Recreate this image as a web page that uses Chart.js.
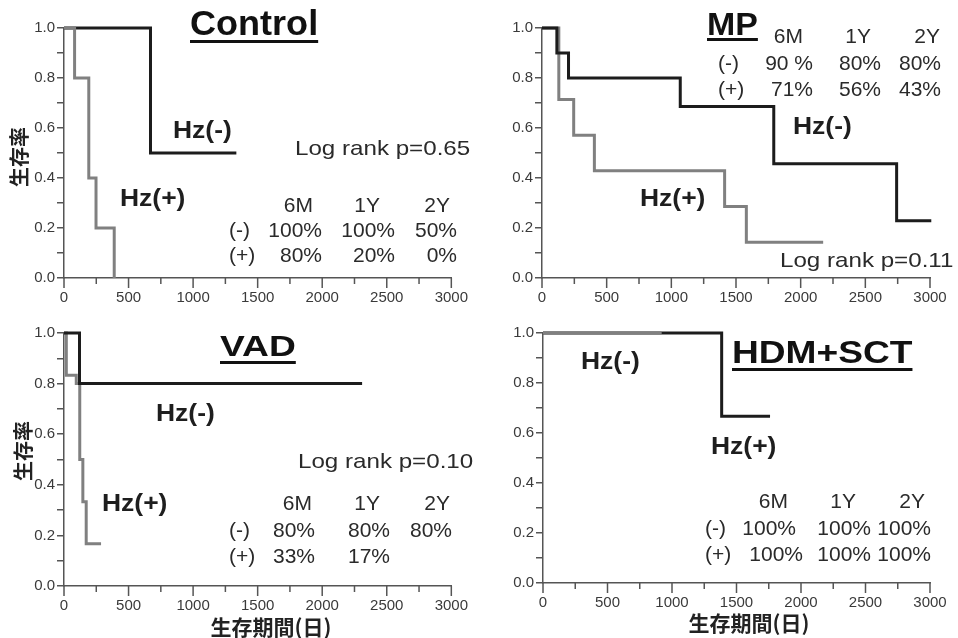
<!DOCTYPE html>
<html>
<head>
<meta charset="utf-8">
<script src="https://cdn.jsdelivr.net/npm/chart.js@4/dist/chart.umd.min.js"></script>
<style>
html, body { margin: 0; padding: 0; background: #fff; }
#page { position: relative; width: 958px; height: 638px; overflow: hidden; font-family: "Liberation Sans", Arial, sans-serif; color: #222; }
canvas { position: absolute; }
.t { position: absolute; white-space: nowrap; line-height: 1; transform-origin: 0 0; }
.title { font-weight: bold; color: #111; text-decoration: underline; text-decoration-thickness: 2.5px; }
.hz { font-weight: bold; font-size: 23px; transform: scaleX(1.15); color: #1e1e1e; }
.lr { font-size: 21px; transform: scaleX(1.15); color: #2a2a2a; }
.tb { position: absolute; white-space: nowrap; line-height: 1; font-size: 21px; color: #2a2a2a; }
.ytitle { position: absolute; font-family: "Noto Sans CJK JP"; font-weight: bold; font-size: 20px; line-height: 1; white-space: nowrap; transform: translate(-50%, -50%) rotate(-90deg); color: #222; }
.xtitle { position: absolute; font-family: "Noto Sans CJK JP"; font-weight: bold; font-size: 21px; line-height: 1; white-space: nowrap; transform: translate(-50%, -50%); color: #222; }
</style>
</head>
<body>
<div id="page">
  <canvas id="cControl" width="479" height="318" style="left:0;top:0"></canvas>
  <canvas id="cMP" width="479" height="318" style="left:479px;top:0"></canvas>
  <canvas id="cVAD" width="479" height="320" style="left:0;top:318px"></canvas>
  <canvas id="cHDM" width="479" height="320" style="left:479px;top:318px"></canvas>

  <div class="t title" style="left:190px;top:5px;font-size:35px;transform:scaleX(1.03);text-underline-offset:5px">Control</div>
  <div class="t title" style="left:707px;top:8px;font-size:32px;transform:scaleX(1.06);text-underline-offset:3px">MP</div>
  <div class="t title" style="left:220px;top:331px;font-size:30px;transform:scaleX(1.24);text-underline-offset:5px">VAD</div>
  <div class="t title" style="left:732px;top:336px;font-size:32px;transform:scaleX(1.16);text-underline-offset:5px">HDM+SCT</div>

  <div class="t hz" style="left:173px;top:119px">Hz(-)</div>
  <div class="t hz" style="left:120px;top:187px">Hz(+)</div>
  <div class="t hz" style="left:793px;top:115px">Hz(-)</div>
  <div class="t hz" style="left:640px;top:187px">Hz(+)</div>
  <div class="t hz" style="left:156px;top:402px">Hz(-)</div>
  <div class="t hz" style="left:102px;top:492px">Hz(+)</div>
  <div class="t hz" style="left:581px;top:350px">Hz(-)</div>
  <div class="t hz" style="left:711px;top:435px">Hz(+)</div>

  <div class="t lr" style="left:295px;top:137px">Log rank p=0.65</div>
  <div class="t lr" style="left:780px;top:249px">Log rank p=0.11</div>
  <div class="t lr" style="left:298px;top:450px">Log rank p=0.10</div>

  <div class="ytitle" style="left:19px;top:157px">生存率</div>
  <div class="ytitle" style="left:23px;top:451px">生存率</div>
  <div class="xtitle" style="left:271px;top:626px">生存期間(日)</div>
  <div class="xtitle" style="left:749px;top:622px">生存期間(日)</div>
</div>
<script>
// 軸の目盛
const xTicks = [0, 500, 1000, 1500, 2000, 2500, 3000]
const yTicks = [0, 0.2, 0.4, 0.6, 0.8, 1.0]

// Control
const ctrlNegDays = [0, 670, 1335]
const ctrlNegSurv = [1, 0.5, 0.5]
const ctrlPosDays = [0, 82, 192, 248, 389]
const ctrlPosSurv = [1, 0.8, 0.4, 0.2, 0]

// MP
const mpNegDays = [0, 115, 205, 1069, 1792, 2742, 3010]
const mpNegSurv = [1, 0.9, 0.8, 0.686, 0.457, 0.229, 0.229]
const mpPosDays = [0, 130, 245, 405, 1412, 1580, 2174]
const mpPosSurv = [1, 0.714, 0.571, 0.429, 0.286, 0.143, 0.143]

// VAD
const vadNegDays = [0, 120, 2309]
const vadNegSurv = [1, 0.8, 0.8]
const vadPosDays = [0, 18, 95, 122, 146, 172, 287]
const vadPosSurv = [1, 0.833, 0.8, 0.5, 0.333, 0.167, 0.167]

// HDM+SCT
const hdmNegDays = [0, 1385, 1760]
const hdmNegSurv = [1, 0.667, 0.667]
const hdmPosDays = [0, 920]
const hdmPosSurv = [1, 1]

// 生存率の表
const rateHeads = ['6M', '1Y', '2Y']
const rowLabels = ['(-)', '(+)']
const ctrlRates = [['100%', '100%', '50%'], ['80%', '20%', '0%']]
const mpRates = [['90 %', '80%', '80%'], ['71%', '56%', '43%']]
const vadRates = [['80%', '80%', '80%'], ['33%', '17%', '']]
const hdmRates = [['100%', '100%', '100%'], ['100%', '100%', '100%']]

const BLACK = '#1c1c1c'
const GRAY = '#808080'

const toPoints = (xs, ys) => xs.map((x, i) => ({ x: x, y: ys[i] }))

const tickFont = { family: '"Liberation Sans Narrow", "Liberation Sans", Arial', size: 15 }

// x軸の目盛線（大きい目盛と小さい目盛）
const xTickMarks = {
    id: 'xTickMarks',
    afterDraw(chart) {
        const s = chart.scales.x
        const ctx = chart.ctx
        ctx.save()
        ctx.strokeStyle = '#555'
        ctx.lineWidth = 1.5
        s.ticks.forEach(t => {
            const px = s.getPixelForValue(t.value)
            const len = xTicks.includes(t.value) ? 10 : 6
            ctx.beginPath()
            ctx.moveTo(px, s.top)
            ctx.lineTo(px, s.top + len)
            ctx.stroke()
        })
        ctx.restore()
    }
}

function kmChart(id, sets, pad) {
    return new Chart(document.getElementById(id), {
        type: 'line',
        data: {
            datasets: sets.map(s => ({
                label: s.label,
                data: toPoints(s.days, s.surv),
                borderColor: s.color,
                borderWidth: 3,
                stepped: true,
                pointRadius: 0,
                fill: false,
                clip: 8,
                borderCapStyle: 'butt',
                borderJoinStyle: 'miter'
            }))
        },
        options: {
            responsive: false,
            animation: false,
            layout: { padding: pad },
            plugins: { legend: { display: false }, tooltip: { enabled: false } },
            scales: {
                x: {
                    type: 'linear', min: 0, max: 3000,
                    afterFit: s => { s.height = 36 },
                    ticks: {
                        stepSize: 250, autoSkip: false, maxRotation: 0, padding: 11,
                        color: '#3a3a3a', font: tickFont,
                        callback: v => xTicks.includes(v) ? String(v) : ''
                    },
                    grid: { drawOnChartArea: false, drawTicks: false },
                    border: { color: '#555', width: 1.5 }
                },
                y: {
                    type: 'linear', min: 0, max: 1,
                    afterFit: s => { s.width = 52 },
                    ticks: {
                        stepSize: 0.1, autoSkip: false, padding: 2,
                        color: '#3a3a3a', font: tickFont,
                        callback: v => yTicks.some(t => Math.abs(t - v) < 1e-6) ? v.toFixed(1) : ''
                    },
                    grid: { drawOnChartArea: false, tickLength: 7, color: '#555', lineWidth: 1.5 },
                    border: { color: '#555', width: 1.5 }
                }
            }
        },
        plugins: [xTickMarks]
    })
}

// 灰色の線を先に置くと上に描かれる
kmChart('cControl', [
    { label: 'Hz(+)', days: ctrlPosDays, surv: ctrlPosSurv, color: GRAY },
    { label: 'Hz(-)', days: ctrlNegDays, surv: ctrlNegSurv, color: BLACK }
], { left: 12, top: 28, right: 24, bottom: 4 })

kmChart('cMP', [
    { label: 'Hz(-)', days: mpNegDays, surv: mpNegSurv, color: BLACK },
    { label: 'Hz(+)', days: mpPosDays, surv: mpPosSurv, color: GRAY }
], { left: 11, top: 28, right: 28, bottom: 4 })

kmChart('cVAD', [
    { label: 'Hz(-)', days: vadNegDays, surv: vadNegSurv, color: BLACK },
    { label: 'Hz(+)', days: vadPosDays, surv: vadPosSurv, color: GRAY }
], { left: 12, top: 15, right: 24, bottom: 16 })

kmChart('cHDM', [
    { label: 'Hz(+)', days: hdmPosDays, surv: hdmPosSurv, color: GRAY },
    { label: 'Hz(-)', days: hdmNegDays, surv: hdmNegSurv, color: BLACK }
], { left: 12, top: 15, right: 28, bottom: 19 })

// 表を配置する
function placeTable(rates, labelX, headRight, valRight, capTops) {
    const page = document.getElementById('page')
    const add = (text, top, opts) => {
        const d = document.createElement('div')
        d.className = 'tb'
        d.textContent = text
        d.style.top = (top - 2.7) + 'px'
        if (opts.left != null) d.style.left = opts.left + 'px'
        if (opts.right != null) d.style.right = (958 - opts.right) + 'px'
        page.appendChild(d)
    }
    rateHeads.forEach((h, i) => add(h, capTops[0], { right: headRight[i] }))
    rates.forEach((row, r) => {
        add(rowLabels[r], capTops[r + 1], { left: labelX })
        const rights = Array.isArray(valRight[0]) ? valRight[r] : valRight
        row.forEach((v, i) => { if (v) add(v, capTops[r + 1], { right: rights[i] }) })
    })
}

placeTable(ctrlRates, 229, [313, 380, 450], [322, 395, 457], [197, 222, 247])
placeTable(mpRates, 718, [803, 871, 940], [813, 881, 941], [28, 55, 81])
placeTable(vadRates, 229, [312, 380, 450], [315, 390, 452], [495, 522, 548])
placeTable(hdmRates, 705, [788, 856, 925], [[796, 871, 931], [803, 871, 931]], [493, 520, 546])
</script>
</body>
</html>
